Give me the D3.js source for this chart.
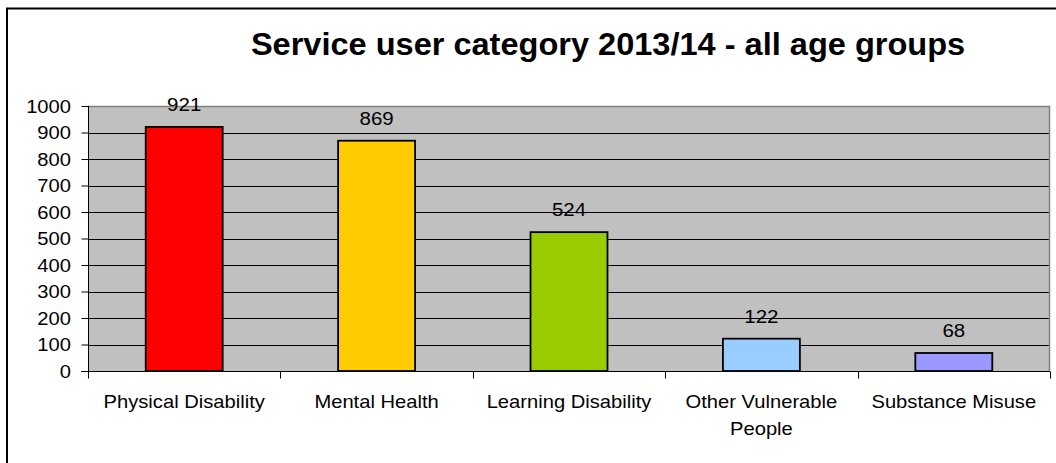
<!DOCTYPE html>
<html>
<head>
<meta charset="utf-8">
<script src="https://cdn.jsdelivr.net/npm/d3@7/dist/d3.min.js"></script>
<style>
  html, body { margin: 0; padding: 0; background: #fff; }
  svg { display: block; font-family: "Liberation Sans", Arial, sans-serif; }
</style>
</head>
<body>
<svg id="chart" width="1056" height="463"></svg>
<script>
// Service user categories and counts
const categories = ["Physical Disability", "Mental Health", "Learning Disability", "Other Vulnerable People", "Substance Misuse"];
const categoryLines = [["Physical Disability"], ["Mental Health"], ["Learning Disability"], ["Other Vulnerable", "People"], ["Substance Misuse"]];
const values = [921, 869, 524, 122, 68];
const barColors = ["#FF0000", "#FFCC00", "#99CC00", "#99CCFF", "#9999FF"];
const yTicks = [0, 100, 200, 300, 400, 500, 600, 700, 800, 900, 1000];
const titleText = "Service user category 2013/14 - all age groups";

const svg = d3.select("#chart");
const W = 1056, H = 463;
const plot = { left: 88, right: 1050, top: 106, bottom: 371 };
const SX = 1.12; // horizontal text stretch

function stretchedText(sel, x, y, sx) {
  return sel.attr("transform", `translate(${x},${y}) scale(${sx},1)`);
}

// outer frame
svg.append("rect")
  .attr("x", 7).attr("y", 8.5)
  .attr("width", W + 20).attr("height", H + 20)
  .attr("fill", "#fff").attr("stroke", "#000").attr("stroke-width", 2);

// title
stretchedText(svg.append("text"), 608, 55, 1.05)
  .attr("text-anchor", "middle")
  .attr("font-size", 31).attr("font-weight", "bold")
  .attr("fill", "#000")
  .text(titleText);

const x = d3.scaleBand()
  .domain(categories)
  .range([plot.left, plot.right])
  .paddingInner(0.6).paddingOuter(0.3);

const y = d3.scaleLinear()
  .domain([0, 1000])
  .range([plot.bottom, plot.top]);

// plot background
svg.append("rect")
  .attr("x", plot.left).attr("y", plot.top)
  .attr("width", plot.right - plot.left).attr("height", plot.bottom - plot.top)
  .attr("fill", "#C0C0C0");

// gridlines
svg.append("g").selectAll("line")
  .data(yTicks.filter(d => d > 0 && d < 1000))
  .join("line")
  .attr("x1", plot.left).attr("x2", plot.right)
  .attr("y1", d => Math.round(y(d)) + 0.5).attr("y2", d => Math.round(y(d)) + 0.5)
  .attr("stroke", "#000").attr("stroke-width", 1);

// plot border (top & right)
svg.append("path")
  .attr("d", `M${plot.left},${plot.top + 0.5}H${plot.right - 0.5}V${plot.bottom}`)
  .attr("fill", "none").attr("stroke", "#808080").attr("stroke-width", 1.5);

// bars
svg.append("g").selectAll("rect")
  .data(values)
  .join("rect")
  .attr("x", (d, i) => x(categories[i]))
  .attr("y", d => y(d))
  .attr("width", x.bandwidth())
  .attr("height", d => y(0) - y(d))
  .attr("fill", (d, i) => barColors[i])
  .attr("stroke", "#000").attr("stroke-width", 1.8);

// value labels
const vl = svg.append("g");
values.forEach((v, i) => {
  stretchedText(vl.append("text"), x(categories[i]) + x.bandwidth() / 2, y(v) - 16, 1.08)
    .attr("text-anchor", "middle").attr("font-size", 19).attr("fill", "#000")
    .text(v);
});

// y axis
const yAxis = d3.axisLeft(y).tickValues(yTicks).tickSize(7).tickFormat(d3.format("d"));
const ya = svg.append("g").attr("transform", `translate(${plot.left + 0.5},0)`).call(yAxis);
ya.select(".domain").attr("stroke", "#000").attr("d", `M0,${plot.top}V${plot.bottom + 6}`);
ya.selectAll(".tick line").attr("stroke", "#000");
ya.selectAll(".tick text").remove();
const yl = svg.append("g");
yTicks.forEach(t => {
  stretchedText(yl.append("text"), 71, y(t) + 6.5, SX)
    .attr("text-anchor", "end").attr("font-size", 18).attr("fill", "#000")
    .text(t);
});

// x axis
const xa = svg.append("g").attr("transform", `translate(0,${plot.bottom + 0.5})`);
xa.append("line")
  .attr("x1", plot.left - 7).attr("x2", plot.right)
  .attr("stroke", "#000");
const step = x.step();
const boundaries = d3.range(categories.length + 1).map(i => plot.left + i * step);
xa.selectAll("line.tk")
  .data(boundaries)
  .join("line").attr("class", "tk")
  .attr("x1", d => Math.round(d) + 0.5).attr("x2", d => Math.round(d) + 0.5)
  .attr("y1", 0).attr("y2", 7)
  .attr("stroke", "#000");

const xl = svg.append("g");
categoryLines.forEach((lines, i) => {
  const cx = x(categories[i]) + x.bandwidth() / 2;
  lines.forEach((ln, j) => {
    stretchedText(xl.append("text"), cx, 408 + j * 26.5, SX)
      .attr("text-anchor", "middle").attr("font-size", 18).attr("fill", "#000")
      .text(ln);
  });
});
</script>
</body>
</html>
